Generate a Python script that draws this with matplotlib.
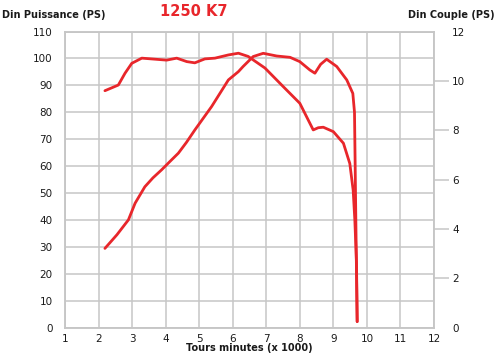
import matplotlib
matplotlib.use("Agg")
import matplotlib.pyplot as plt

# puissance (PS), axe de gauche
rpm_power = [2.19, 2.55, 2.89, 3.09, 3.38, 3.62, 3.88, 4.12, 4.38, 4.62, 4.87,
             5.37, 5.87, 6.17, 6.31, 6.61, 6.91, 7.31, 7.71, 8.0, 8.30, 8.45,
             8.62, 8.80, 9.10, 9.40, 9.58, 9.63, 9.66, 9.69, 9.71]
power = [29.4, 34.5, 40.0, 46.2, 52.3, 55.6, 58.6, 61.6, 64.8, 68.8, 73.4,
         82.1, 92.0, 95.1, 97.0, 100.7, 101.9, 100.9, 100.4, 98.8, 95.7, 94.5,
         97.8, 99.7, 97.0, 92.0, 87.0, 80.0, 50.0, 20.0, 2.2]

# couple, axe de droite
rpm_torque = [2.19, 2.59, 2.79, 2.99, 3.29, 4.03, 4.33, 4.63, 4.87, 5.17, 5.47,
              5.87, 6.17, 6.46, 6.96, 7.51, 8.0, 8.40, 8.55, 8.70, 9.0, 9.30,
              9.49, 9.59, 9.64, 9.69, 9.71]
torque = [9.60, 9.83, 10.31, 10.71, 10.92, 10.84, 10.92, 10.78, 10.73, 10.89, 10.92,
          11.05, 11.12, 10.99, 10.52, 9.76, 9.09, 8.01, 8.10, 8.12, 7.94, 7.47,
          6.65, 5.57, 4.36, 2.61, 0.24]

x_ticks = list(range(1, 13))
left_ticks = list(range(0, 111, 10))
right_ticks = list(range(0, 13, 2))

red = "#e8262b"
grid_c = "#c6c6c6"
txt = "#1a1a1a"

fig = plt.figure(figsize=(5, 3.56), dpi=100)
ax = fig.add_axes([0.13, 0.08, 0.738, 0.8315])
ax2 = ax.twinx()

ax.plot(rpm_power, power, color=red, lw=2.0, solid_capstyle="round", zorder=3)
ax2.plot(rpm_torque, torque, color=red, lw=2.0, solid_capstyle="round", zorder=3)

ax.set_xlim(1, 12)
ax.set_ylim(0, 110)
ax2.set_ylim(0, 12)
ax.set_xticks(x_ticks)
ax.set_yticks(left_ticks)
ax2.set_yticks(right_ticks)

ax.grid(True, color=grid_c, lw=1.1)
ax.set_axisbelow(True)
for a in (ax, ax2):
    for s in a.spines.values():
        s.set_color(grid_c)
        s.set_linewidth(1.1)

ax.tick_params(axis="both", length=0, labelsize=7.5, labelcolor=txt)
ax.tick_params(axis="y", pad=9)
ax.tick_params(axis="x", pad=5)
ax2.tick_params(axis="y", length=11, width=1.1, color=grid_c, labelsize=7.5,
                labelcolor=txt, pad=2)
ticks = ax2.yaxis.get_major_ticks()
ticks[0].tick2line.set_visible(False)
ticks[-1].tick2line.set_visible(False)

fig.text(0.004, 0.958, "Din Puissance (PS)", fontsize=7, fontweight="bold",
         color=txt, ha="left", va="center")
fig.text(0.99, 0.958, "Din Couple (PS)", fontsize=7, fontweight="bold",
         color=txt, ha="right", va="center")
fig.text(0.388, 0.968, "1250 K7", fontsize=10.5, fontweight="bold",
         color=red, ha="center", va="center")
fig.text(0.499, 0.022, "Tours minutes (x 1000)", fontsize=7, fontweight="bold",
         color=txt, ha="center", va="center")

fig.savefig("out.png", dpi=100)
